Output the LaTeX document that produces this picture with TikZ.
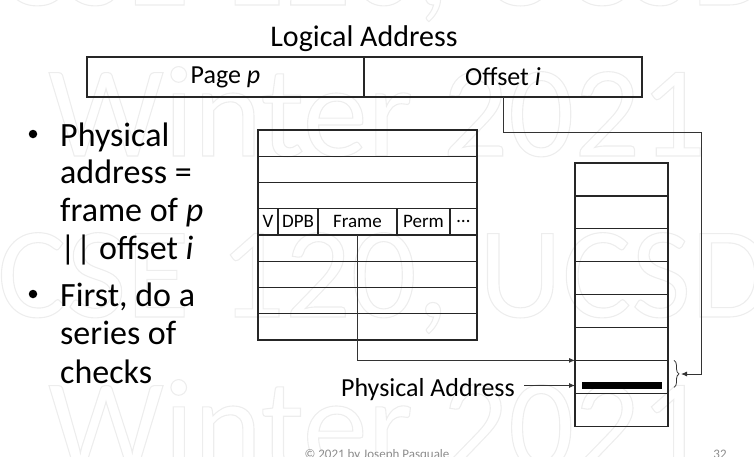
\documentclass[tikz,border=0pt]{standalone}
\usepackage{fontspec}
\setmainfont{Carlito}
\usetikzlibrary{positioning,arrows.meta,decorations.pathreplacing}
\newcommand{\wmtext}[1]{\special{pdf:literal direct 0.93 G 1 Tr 1.1 w}#1\special{pdf:literal direct 0 Tr 0 G}}

\begin{document}
\begin{tikzpicture}[x=1pt,y=-1pt,
  box/.style={draw=black!85,line width=1.2pt,inner sep=0pt,outer sep=0pt,font=\fontsize{26}{30}\selectfont},
  ptrow/.style={box,minimum width=219pt,minimum height=26.25pt},
  memrow/.style={box,minimum width=93pt,minimum height=32.9pt},
  field/.style={box,minimum height=26.25pt,font=\fontsize{19}{22}\selectfont},
  link/.style={draw=black!80,line width=0.9pt,-{Latex[length=6pt,width=5pt]}},
  bullettext/.style={anchor=base west,inner sep=0pt,font=\fontsize{34}{38}\selectfont},
  dot/.style={circle,fill=black,inner sep=0pt,minimum size=8.5pt},
  wm/.style={anchor=base west,inner sep=0pt,text=black!7,font=\fontsize{130}{130}\selectfont},
  foot/.style={anchor=base,text=black!45,inner sep=0pt,font=\fontsize{13}{15}\selectfont}]
  \useasboundingbox (0,0) rectangle (754,456);

  \node[wm] (wm0) at (-3,5) {\wmtext{CSE 120, UCSD}};
  \node[wm] (wm1) at (48,156) {\wmtext{Winter 2021}};
  \node[wm] (wm2) at (-3,317) {\wmtext{CSE 120, UCSD}};
  \node[wm] (wm3) at (48,469) {\wmtext{Winter 2021}};

  \node[anchor=base,inner sep=0pt,font=\fontsize{30}{34}\selectfont] (title) at (364,46) {Logical Address};
  \node[box,minimum width=277pt,minimum height=40pt] (page) at (225.5,77) {Page \textit{p}};
  \node[box,minimum width=278pt,minimum height=40pt,right=0pt of page] (off) {Offset \textit{i}};

  \foreach \k in {1,...,8}
    \node[ptrow] (pt\k) at (367.5,{130+(\k-0.5)*26.25}) {};
  \node[field,minimum width=20pt,anchor=west] (fv) at (pt4.west) {V};
  \node[field,minimum width=40pt,right=0pt of fv] (fdpb) {DPB};
  \node[field,minimum width=79pt,right=0pt of fdpb] (fframe) {Frame};
  \node[field,minimum width=53pt,right=0pt of fframe] (fperm) {Perm};
  \node[field,minimum width=27pt,right=0pt of fperm] (fmore) {\dots};

  \foreach \k in {1,...,8}
    \node[memrow] (m\k) at (621.5,{163+(\k-0.5)*32.9}) {};
  \node[fill=black,minimum width=80pt,minimum height=7pt,inner sep=0pt] (bar) at (622,385.5) {};

  \draw[link] (fframe.south) |- (m7.north west);
  \node[anchor=base east,inner xsep=9pt,inner ysep=0pt,font=\fontsize{26}{30}\selectfont] (paddr) at (524,396) {Physical Address};
  \draw[link] (paddr.east |- bar) -- (m7.west |- bar);

  \draw[decorate,decoration={brace,amplitude=5pt},line width=0.8pt,draw=black!80]
    ([xshift=6pt]m7.north east) -- ([xshift=6pt,yshift=-27pt]m7.north east);
  \coordinate (bracetip) at (681,374);
  \draw[link] (off.south) -- ++(0,35) -| (701,374) -- (bracetip);

  \foreach \y/\t [count=\k] in {146/Physical,183/address =,221/frame of \textit{p},259/{|| offset \textit{i}},306/{First, do a},344/series of,383/checks}
    \node[bullettext] (line\k) at (60,\y) {\t};
  \node[dot] (dot1) at (33,134) {};
  \node[dot] (dot2) at (33,294) {};

  \node[foot] (copy) at (377,458) {© 2021 by Joseph Pasquale};
  \node[foot] (slide) at (720,458) {32};
\end{tikzpicture}
\end{document}
